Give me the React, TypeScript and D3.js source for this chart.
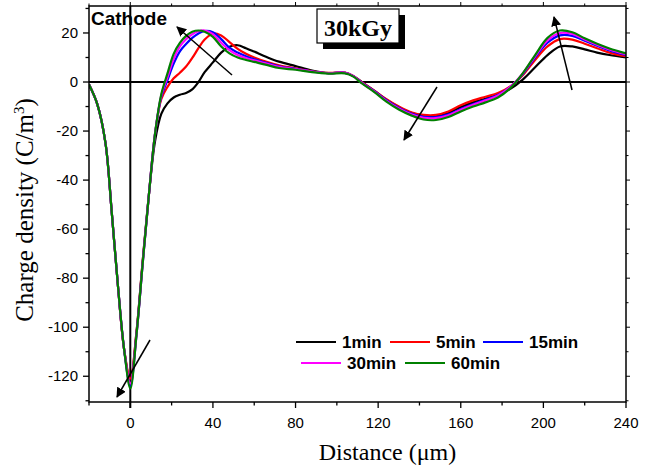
import React from "react";
import * as d3 from "d3";

const xs = [-20,-16,-12,-9,-6,-3,0,3,6,9,12,15,18,21,24,27,30,33,36,40,44,48,52,56,60,66,72,80,88,96,104,108,112,118,124,130,136,142,148,154,160,166,172,178,184,190,196,202,208,214,220,226,232,240];

const s1min = [-1,-9,-25,-53,-83,-109,-122,-102,-73,-46,-24,-13,-8.7,-6.3,-5.2,-4.5,-3,0,4,8,12,14.4,15,13.8,12.4,10.2,8.3,6.5,4.7,3.6,3.7,2.4,0,-3.5,-7.2,-10.2,-12.6,-13.8,-13.9,-12.5,-10.2,-8.3,-6.8,-5.2,-2.8,1,6,11,14.5,14.5,13.3,12,11,10];
const s5min = [-1,-9,-25,-53,-83,-109,-121,-102,-73,-46,-21,-7,-2,1.5,3.8,6.3,9.8,13.8,17.3,19.8,19,16.3,13.5,11.5,10,8.2,6.8,5.6,4.4,3.7,3.8,2.5,0,-3.4,-7,-10,-12.3,-13.4,-13.4,-12,-9.5,-7.5,-6,-4.5,-1.8,2.8,9,14.5,17.5,17.3,15.6,13.8,12,10.5];
const s15min = [-1,-9,-25,-53,-83,-109,-124,-103,-74,-46,-21,-6,0.8,7.5,12.5,15.5,18,19.8,20.8,20.3,17.5,14,12,10.5,9.3,7.8,6.4,5.4,4.3,3.6,3.7,2.4,-0.2,-3.6,-7.4,-10.5,-12.9,-14.2,-14.3,-13.2,-11,-9,-7.2,-5.3,-2,3.2,10,16,19,18.8,16.8,14.8,12.9,11];
const s30min = [-1,-9,-25,-53,-83,-109,-123,-103,-74,-46,-21,-5.5,2,9.5,14.5,17.5,19.5,20.7,21,19.5,16,13,11,9.8,8.8,7.5,6.2,5.3,4.3,3.6,3.7,2.4,-0.3,-3.8,-7.7,-10.8,-13.2,-14.6,-14.7,-13.6,-11.3,-9.3,-7.5,-5.5,-2,3.5,10.5,17,20,19.6,17.3,15.2,13.3,11.3];
const s60min = [-1,-9,-25,-53,-83,-109,-125,-103,-74,-46,-21,-5,3.5,11.5,16,18.8,20.5,21,20.5,18.4,14.5,11.7,10,9,8.2,7,5.7,5,4,3.4,3.5,2.2,-0.5,-4,-8,-11.2,-13.6,-15.3,-15.5,-14.3,-12,-10,-8.3,-6.3,-2.5,3.5,11,18,21,20.3,17.8,15.6,13.7,11.7];

const seriesNames = ["1min","5min","15min","30min","60min"];
const seriesData = [s1min, s5min, s15min, s30min, s60min];
const seriesColors = ["#000000","#ff0000","#0000ff","#ff00ff","#008000"];

const xMajor = [0,40,80,120,160,200,240];
const xMinor = [-20,20,60,100,140,180,220];
const yMajor = [20,0,-20,-40,-60,-80,-100,-120];
const yMinor = [30,10,-10,-30,-50,-70,-90,-110,-130];

const W = 652, H = 466;
const L = 89, R = 626, T = 6, B = 402;

export default function App() {
  const x = d3.scaleLinear().domain([-20, 240]).range([L, R]);
  const y = d3.scaleLinear().domain([-130.5, 31]).range([B, T]);
  const line = d3.line<number>()
    .x((_, i) => x(xs[i]))
    .y((d) => y(d))
    .curve(d3.curveCatmullRom.alpha(0.5));

  const arrows = [
    { x1: 232, y1: 75, x2: 177, y2: 27 },
    { x1: 437, y1: 87, x2: 404, y2: 140 },
    { x1: 572, y1: 90, x2: 554, y2: 17 },
    { x1: 150, y1: 340, x2: 117, y2: 397 },
  ];

  const legendRows = [
    [{ i: 0, lx: 296 }, { i: 1, lx: 390 }, { i: 2, lx: 483 }],
    [{ i: 3, lx: 301 }, { i: 4, lx: 405 }],
  ];
  const legendY = [342, 363];

  return (
    <svg width={W} height={H} style={{ position: "absolute", left: 0, top: 0, background: "#fff" }}>
      <defs>
        <marker id="ah" viewBox="0 0 10 10" refX="9" refY="5" markerWidth="10" markerHeight="10" markerUnits="userSpaceOnUse" orient="auto">
          <path d="M0,0 L10,5 L0,10 z" fill="#000" />
        </marker>
        <clipPath id="plotclip">
          <rect x={L} y={T} width={R - L} height={B - T} />
        </clipPath>
      </defs>
      <rect width={W} height={H} fill="#fff" />

      {/* zero lines */}
      <line x1={L} x2={R} y1={y(0)} y2={y(0)} stroke="#000" strokeWidth={2} />
      <line x1={x(0)} x2={x(0)} y1={T} y2={B + 6} stroke="#000" strokeWidth={2} />

      {/* curves */}
      <g clipPath="url(#plotclip)">
        {seriesData.map((d, k) => (
          <path key={k} d={line(d) || ""} fill="none" stroke={seriesColors[k]} strokeWidth={2.2} />
        ))}
      </g>

      {/* frame */}
      <rect x={L} y={T} width={R - L} height={B - T} fill="none" stroke="#000" strokeWidth={1.5} />

      {/* x ticks */}
      {xMajor.map((v) => (
        <g key={"xm" + v}>
          <line x1={x(v)} x2={x(v)} y1={B} y2={B + 6} stroke="#000" strokeWidth={1.3} />
          <line x1={x(v)} x2={x(v)} y1={T} y2={T - 4} stroke="#000" strokeWidth={1} />
          <text x={x(v)} y={B + 26} textAnchor="middle" fontFamily="Arial, 'Liberation Sans'" fontSize={15}>{v}</text>
        </g>
      ))}
      {xMinor.map((v) => (
        <g key={"xn" + v}>
          <line x1={x(v)} x2={x(v)} y1={B} y2={B + 3.5} stroke="#000" strokeWidth={1.3} />
          <line x1={x(v)} x2={x(v)} y1={T} y2={T - 2.5} stroke="#000" strokeWidth={1} />
        </g>
      ))}
      {/* y ticks */}
      {yMajor.map((v) => (
        <g key={"ym" + v}>
          <line x1={L} x2={L - 6} y1={y(v)} y2={y(v)} stroke="#000" strokeWidth={1.3} />
          <line x1={R} x2={R + 4} y1={y(v)} y2={y(v)} stroke="#000" strokeWidth={1} />
          <text x={L - 11} y={y(v) + 5} textAnchor="end" fontFamily="Arial, 'Liberation Sans'" fontSize={15}>{v}</text>
        </g>
      ))}
      {yMinor.map((v) => (
        <g key={"yn" + v}>
          <line x1={L} x2={L - 3.5} y1={y(v)} y2={y(v)} stroke="#000" strokeWidth={1.3} />
          <line x1={R} x2={R + 2.5} y1={y(v)} y2={y(v)} stroke="#000" strokeWidth={1} />
        </g>
      ))}

      {/* axis titles */}
      <text x={(L + R) / 2 + 30} y={460} textAnchor="middle" fontFamily="'Times New Roman', 'Liberation Serif', serif" fontSize={24}>Distance (μm)</text>
      <text transform={`translate(33, ${(T + B) / 2 + 6}) rotate(-90)`} textAnchor="middle" fontFamily="'Times New Roman', 'Liberation Serif', serif" fontSize={25}>
        Charge density (C/m<tspan dy={-9} fontSize={15}>3</tspan><tspan dy={9}>)</tspan>
      </text>

      {/* annotations */}
      <text x={91} y={25} fontFamily="Arial, 'Liberation Sans'" fontWeight="bold" fontSize={19}>Cathode</text>
      <rect x={323} y={15} width={82} height={34} fill="#000" />
      <rect x={317} y={9} width={82} height={34} fill="#fff" stroke="#000" strokeWidth={1.2} />
      <text x={358} y={36} textAnchor="middle" fontFamily="'Times New Roman', 'Liberation Serif', serif" fontWeight="bold" fontSize={24}>30kGy</text>

      {arrows.map((a, i) => (
        <line key={"ar" + i} x1={a.x1} y1={a.y1} x2={a.x2} y2={a.y2} stroke="#000" strokeWidth={1.5} markerEnd="url(#ah)" />
      ))}

      {/* legend */}
      {legendRows.map((row, r) =>
        row.map((e) => (
          <g key={"lg" + e.i}>
            <line x1={e.lx} x2={e.lx + 40} y1={legendY[r]} y2={legendY[r]} stroke={seriesColors[e.i]} strokeWidth={2} />
            <text x={e.lx + 46} y={legendY[r] + 6} fontFamily="Arial, 'Liberation Sans'" fontWeight="bold" fontSize={17}>{seriesNames[e.i]}</text>
          </g>
        ))
      )}
    </svg>
  );
}
